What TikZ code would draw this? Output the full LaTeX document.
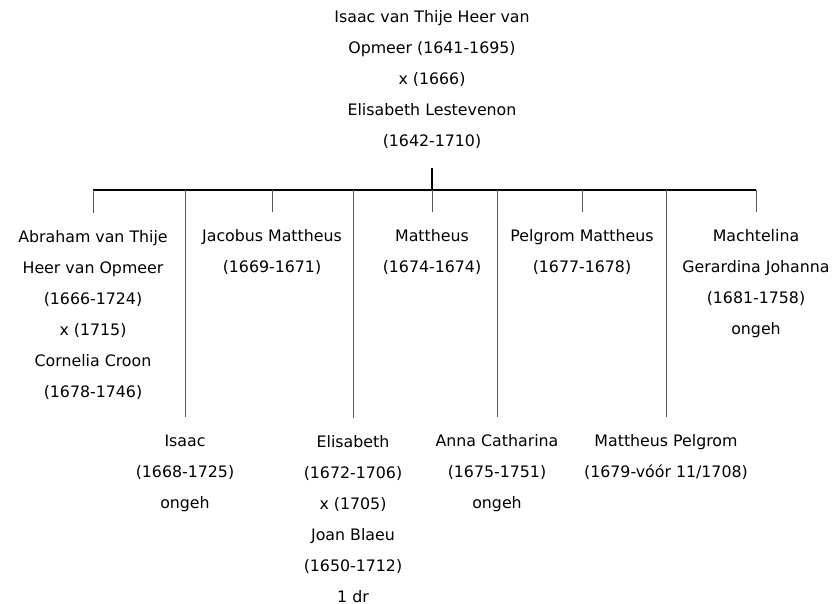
\documentclass[tikz,border=0pt]{standalone}
\usepackage{fontspec}
\setmainfont{DejaVu Sans}
\begin{document}
\begin{tikzpicture}[x=1pt,y=-1pt]
\tikzstyle{person}=[align=center,inner sep=0pt,font=\fontsize{15.8}{31}\selectfont]
\tikzstyle{stem}=[draw=black,line width=1.3pt]
\tikzstyle{drop}=[draw=black!65,line width=1pt,shorten >=17.5pt]

\useasboundingbox (0,0) rectangle (836,604);

% Write the parents
\node[person] (parents) at (432,80) {Isaac van Thije Heer van\\Opmeer (1641-1695)\\x (1666)\\Elisabeth Lestevenon\\(1642-1710)};

% Write the children, upper row
\node[person] (abraham) at (93,315) {Abraham van Thije\\Heer van Opmeer\\(1666-1724)\\x (1715)\\Cornelia Croon\\(1678-1746)};
\node[person] (jacobus) at (272,252.5) {Jacobus Mattheus\\(1669-1671)};
\node[person] (mattheus) at (432,252.5) {Mattheus\\(1674-1674)};
\node[person] (pelgrom) at (582,252.5) {Pelgrom Mattheus\\(1677-1678)};
\node[person] (machtelina) at (756,284) {Machtelina\\Gerardina Johanna\\(1681-1758)\\ongeh};

% Write the children, lower row
\node[person] (isaac) at (185,473) {Isaac\\(1668-1725)\\ongeh};
\node[person] (elisabeth) at (353,519.5) {Elisabeth\\(1672-1706)\\x (1705)\\Joan Blaeu\\(1650-1712)\\1 dr};
\node[person] (anna) at (497,473) {Anna Catharina\\(1675-1751)\\ongeh};
\node[person] (mpelgrom) at (666,457.5) {Mattheus Pelgrom\\(1679-vóór 11/1708)};

% Draw the fork
\coordinate (fork) at (432,190);
\draw[stem] ([yshift=-19pt]parents.south) -- (fork);
\draw[stem] (fork -| abraham) -- (fork -| machtelina);

% Connect the fork with every child
\foreach \child in {abraham,isaac,jacobus,elisabeth,mattheus,anna,pelgrom,mpelgrom,machtelina}
\path[drop] (fork -| \child) -- (\child.north);

\end{tikzpicture}
\end{document}
